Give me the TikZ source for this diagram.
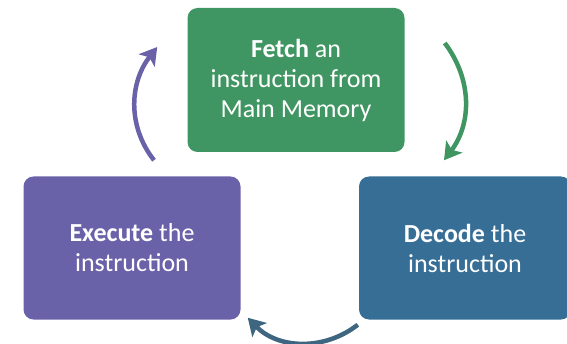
\documentclass[tikz,border=0pt]{standalone}
\usepackage{fontspec}
\setmainfont{Carlito}
\usetikzlibrary{arrows.meta,positioning}
\definecolor{fetchgreen}{RGB}{64,150,98}
\definecolor{execpurple}{RGB}{106,98,168}
\definecolor{decodeblue}{RGB}{54,110,150}
\definecolor{loopblue}{RGB}{62,102,128}

\begin{document}
\begin{tikzpicture}[x=1pt,y=1pt,->,>={Stealth[length=17pt,width=20pt,inset=4pt]},
  line width=4.5pt,
  stage node/.style={rectangle,rounded corners=10pt,draw=none,text=white,align=center,
    minimum width=217pt,minimum height=143pt,font=\fontsize{26}{30}\selectfont}]
  \useasboundingbox (0,0) rectangle (567,343);
  \node[stage node,fill=fetchgreen,minimum height=144pt] (fetch) at (296,263)
    {\textbf{Fetch} an\\instruction from\\Main Memory};
  \node[stage node,fill=execpurple] (execute) at (132,95) {\textbf{Execute} the\\instruction};
  \node[stage node,fill=decodeblue,minimum width=212pt,right=114pt of execute] (decode)
    {\textbf{Decode} the\\instruction};

  \draw[fetchgreen] ([xshift=38pt,yshift=37pt]fetch.east) to[out=-53,in=53]
    ([xshift=-21pt,yshift=14pt]decode.north);
  \draw[loopblue] ([xshift=1pt,yshift=-3pt]decode.south west) to[out=218,in=-46]
    ([xshift=5pt,yshift=4pt]execute.south east);
  \draw[execpurple] ([xshift=22pt,yshift=14pt]execute.north) to[out=128,in=232]
    ([xshift=-28pt,yshift=33pt]fetch.west);
\end{tikzpicture}
\end{document}
